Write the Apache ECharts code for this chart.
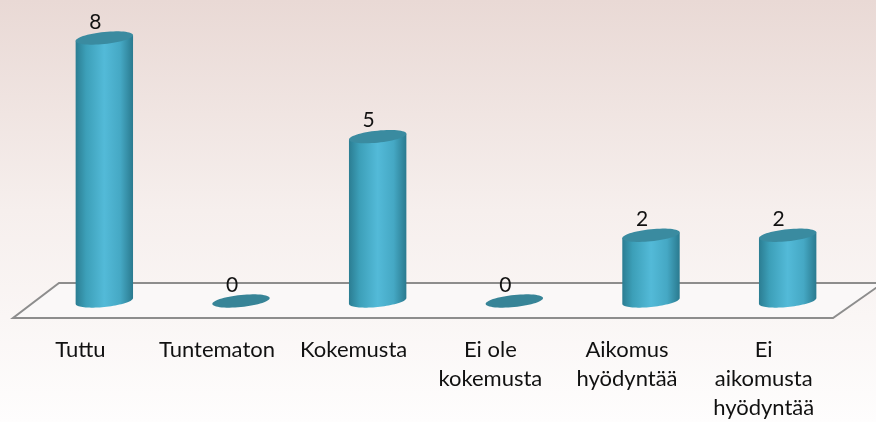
<!DOCTYPE html>
<html>
<head>
<meta charset="utf-8">
<script src="https://cdn.jsdelivr.net/npm/echarts@6/dist/echarts.min.js"></script>
<style>
  html, body { margin: 0; padding: 0; }
  #chart { width: 876px; height: 422px; }
</style>
</head>
<body>
<div id="chart"></div>
<script>
// kategoriat ja arvot
const categories = ['Tuttu', 'Tuntematon', 'Kokemusta', 'Ei ole\nkokemusta', 'Aikomus\nhyödyntää', 'Ei\naikomusta\nhyödyntää']
const values = [8, 0, 5, 0, 2, 2]

const chart = echarts.init(document.getElementById('chart'))

// ellipsin pisteet pienellä kallistuksella (oikea reuna ylempänä)
function ellipsePts(cx, cy, rx, ry, k, t0, t1, n) {
  const pts = []
  for (let i = 0; i <= n; i++) {
    const t = t0 + (t1 - t0) * i / n
    pts.push([cx + rx * Math.cos(t), cy + ry * Math.sin(t) - k * rx * Math.cos(t)])
  }
  return pts
}

const bodyFill = new echarts.graphic.LinearGradient(0, 0, 1, 0, [
  {offset: 0, color: '#2b7d92'},
  {offset: 0.18, color: '#3c9fb8'},
  {offset: 0.5, color: '#53bad8'},
  {offset: 0.78, color: '#45a8c4'},
  {offset: 1, color: '#2a7a8f'},
])

function renderFloor(params, api) {
  const cs = params.coordSys
  const base = api.coord([0, 0])[1]
  const skew = 23
  const back = base - 18
  const front = base + 17
  return {
    type: 'polygon',
    shape: {
      points: [
        [cs.x + skew, back],
        [cs.x + cs.width + skew + 4, back],
        [cs.x + cs.width - skew, front],
        [cs.x - skew, front],
      ],
    },
    style: {fill: '#faf8f8', stroke: '#8d8d8d', lineWidth: 2},
    silent: true,
  }
}

function renderCylinder(params, api) {
  const idx = api.value(0)
  const val = api.value(1)
  const top = api.coord([idx, val])
  const bottom = api.coord([idx, 0])
  const cx = top[0]
  const rx = api.size([1, 0])[0] * 0.21
  const ry = 6
  const k = 0.1
  const children = []
  if (val > 0) {
    const pts = [[cx - rx, top[1] + k * rx]]
    ellipsePts(cx, bottom[1], rx, ry, k, Math.PI, 0, 40).forEach(p => pts.push(p))
    pts.push([cx + rx, top[1] - k * rx])
    children.push({type: 'polygon', shape: {points: pts}, style: {fill: bodyFill}})
  }
  children.push({
    type: 'polygon',
    shape: {points: ellipsePts(cx, top[1], rx, ry, k, 0, Math.PI * 2, 60)},
    style: {fill: val > 0 ? '#3a8ba0' : '#378497'},
  })
  children.push({
    type: 'text',
    style: {
      text: String(values[idx]),
      x: cx - 9,
      y: top[1] - 16,
      align: 'center',
      verticalAlign: 'middle',
      fill: '#111',
      font: '21px Lato',
    },
  })
  return {type: 'group', children: children}
}

chart.setOption({
  backgroundColor: {
    type: 'linear', x: 0, y: 0, x2: 0, y2: 1,
    colorStops: [
      {offset: 0, color: '#e9d9d5'},
      {offset: 0.5, color: '#f6efed'},
      {offset: 1, color: '#fefdfd'},
    ],
  },
  animation: false,
  grid: {left: 36, right: 20, top: 38, bottom: 120},
  xAxis: {
    type: 'category',
    data: categories,
    axisLine: {show: false},
    axisTick: {show: false},
    axisLabel: {
      interval: 0,
      margin: 34,
      // nimikkeet lattian etureunan kohdalle
      padding: [0, 48, 0, 0],
      fontFamily: 'Lato',
      fontSize: 22,
      lineHeight: 29,
      color: '#111',
    },
  },
  yAxis: {
    type: 'value',
    min: 0,
    max: 8,
    show: false,
    splitLine: {show: false},
  },
  series: [
    {
      type: 'custom',
      renderItem: renderFloor,
      data: [[0, 0]],
      silent: true,
      z: 1,
    },
    {
      type: 'custom',
      renderItem: renderCylinder,
      data: values.map((v, i) => [i, v]),
      z: 2,
    },
  ],
})
</script>
</body>
</html>
